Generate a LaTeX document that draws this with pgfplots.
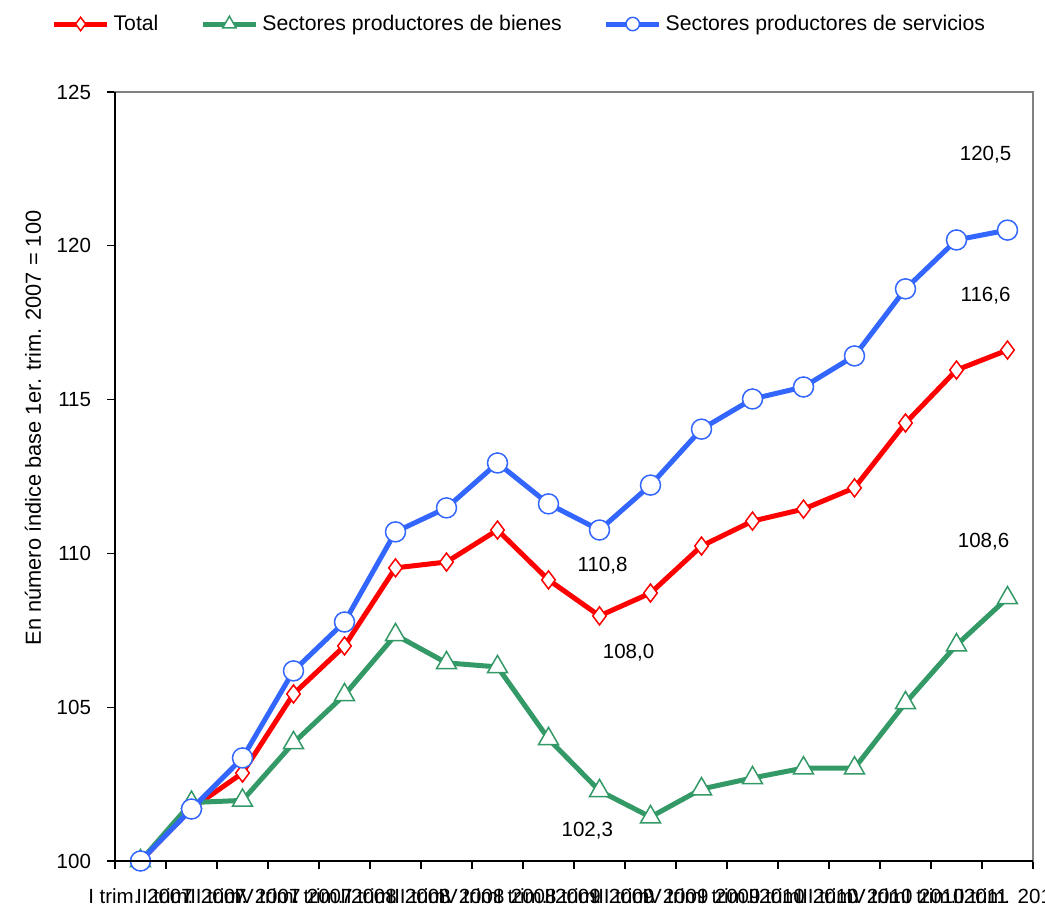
\documentclass[border=0pt]{standalone}
\usepackage{fontspec}
\setmainfont{Liberation Sans}
\usepackage{pgfplots}
\pgfplotsset{compat=1.18}
\definecolor{cred}{RGB}{255,0,0}
\definecolor{cgreen}{RGB}{51,153,102}
\definecolor{cblue}{RGB}{51,102,255}
\definecolor{cgray}{RGB}{128,128,128}
\pgfplotsset{legimg/.style={legend image code/.code={\draw[mark repeat=2,mark phase=2,##1,mark size=#1] plot coordinates {(0pt,0pt) (13.25pt,0pt) (26.5pt,0pt)};}}}
\begin{document}
\begin{tikzpicture}[font=\fontsize{10.25}{12}\selectfont]
\useasboundingbox (0,0) rectangle (522.5pt,453pt);
\clip (0,0) rectangle (522.5pt,453pt);
\begin{axis}[
  at={(57.5pt,22.5pt)}, anchor=south west,
  scale only axis, width=459pt, height=384.5pt,
  xmin=-0.5, xmax=17.5, ymin=100, ymax=125,
  axis line style={cgray, line width=1pt},
  after end axis/.code={\draw[black, line width=1pt] (rel axis cs:0,1) -- (rel axis cs:0,0) -- (rel axis cs:1,0);},
  xtick={0,...,17},
  xticklabels={I trim. 2007, II trim. 2007, III trim. 2007, IV trim. 2007,
               I trim. 2008, II trim. 2008, III trim. 2008, IV trim. 2008,
               I trim. 2009, II trim. 2009, III trim. 2009, IV trim. 2009,
               I trim. 2010, II trim. 2010, III trim. 2010, IV trim. 2010,
               I trim. 2011, II trim. 2011},
  major x tick style={draw=none},
  minor xtick={-0.5,0.5,...,17.5},
  ytick={100,105,...,125},
  tick align=outside, major tick length=4pt, minor tick length=4pt,
  tick style={black, line width=0.6pt},
  xtick pos=bottom, ytick pos=left,
  /pgf/number format/assume math mode=true,
  xticklabel style={anchor=base, yshift=-17pt},
  yticklabel style={xshift=-4.5pt},
  ylabel={En número índice base 1er. trim. 2007 = 100},
  ylabel style={at={(axis description cs:-0.0893,0.563)}, anchor=center, font=\fontsize{10.9}{12}\selectfont},
  legend columns=3,
  legend style={draw=none, fill=none, at={(axis description cs:-0.076,1.0884)}, anchor=west,
    font=\fontsize{10.6}{12}\selectfont,
    /tikz/every even column/.append style={column sep=19pt}},
]
\addplot[cred, line width=2.5pt, mark=diamond*, mark size=4.5pt,
  mark options={fill=white, draw=cred, line width=0.75pt, solid}, legimg=3.35pt]
coordinates {(0,100) (1,101.7) (2,102.86) (3,105.43) (4,106.99) (5,109.53) (6,109.72) (7,110.76) (8,109.14) (9,107.97) (10,108.71) (11,110.24) (12,111.05) (13,111.44) (14,112.13) (15,114.24) (16,115.96) (17,116.61)};
\addlegendentry{Total}
\addplot[cgreen, line width=2.5pt, mark=triangle*, mark size=5.75pt,
  mark options={fill=white, draw=cgreen, line width=0.75pt, solid}, legimg=3.9pt]
coordinates {(0,100) (1,101.9) (2,101.97) (3,103.84) (4,105.40) (5,107.35) (6,106.44) (7,106.31) (8,103.97) (9,102.28) (10,101.43) (11,102.34) (12,102.70) (13,103.02) (14,103.02) (15,105.14) (16,107.02) (17,108.55)};
\addlegendentry{Sectores productores de bienes}
\addplot[cblue, line width=2.5pt, mark=*, mark size=5pt,
  mark options={fill=white, draw=cblue, line width=0.75pt, solid}, legimg=3.35pt]
coordinates {(0,100) (1,101.69) (2,103.35) (3,106.18) (4,107.77) (5,110.70) (6,111.48) (7,112.94) (8,111.61) (9,110.76) (10,112.22) (11,114.04) (12,115.02) (13,115.41) (14,116.42) (15,118.60) (16,120.19) (17,120.51)};
\addlegendentry{Sectores productores de servicios}
\node at (axis cs:16.57,122.95) {120,5};
\node at (axis cs:16.57,118.37) {116,6};
\node at (axis cs:9.06,109.59) {110,8};
\node at (axis cs:9.57,106.76) {108,0};
\node at (axis cs:8.76,101.0) {102,3};
\node at (axis cs:16.53,110.37) {108,6};
\end{axis}
\end{tikzpicture}
\end{document}
